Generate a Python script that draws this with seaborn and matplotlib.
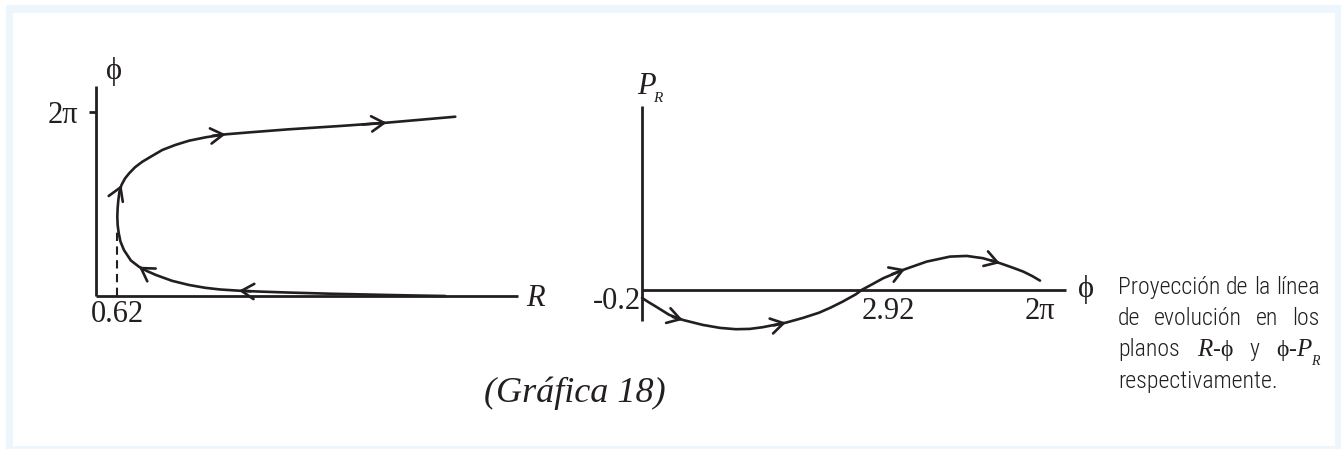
import numpy as np
import matplotlib
matplotlib.use("Agg")
import matplotlib.pyplot as plt
import matplotlib.ticker as mticker
from matplotlib import font_manager
import seaborn as sns
from matplotlib.patches import Rectangle
from matplotlib.transforms import IdentityTransform

# ---------------------------------------------------------------------------
# Data
# ---------------------------------------------------------------------------
# Evolution line projected on the R-phi plane (in the order it is travelled)
r_vals = [10.03, 9.02, 7.88, 6.73, 5.58, 4.72, 4.11, 3.57, 3.14, 2.68,
          2.19, 1.73, 1.47, 1.24, 1.01, 0.81, 0.71, 0.66, 0.63, 0.62,
          0.63, 0.65, 0.68, 0.74, 0.84, 0.96, 1.13, 1.34, 1.59, 1.91,
          2.28, 2.68, 3.17, 3.73, 4.43, 5.55, 7.01, 8.35, 9.31, 10.32]
phi_rvals = [0.0, 0.020, 0.048, 0.078, 0.116, 0.150, 0.181, 0.222, 0.280, 0.375,
             0.518, 0.716, 0.852, 0.999, 1.210, 1.568, 1.858, 2.148, 2.421, 2.704,
             3.000, 3.273, 3.546, 3.784, 4.006, 4.183, 4.391, 4.579, 4.756, 4.978,
             5.148, 5.295, 5.414, 5.513, 5.581, 5.684, 5.796, 5.909, 6.008, 6.113]
r_arrows = [6, 13, 23, 33, 37]         # points carrying a direction arrow
r_min = 0.62                           # turning radius
r_min_phi = 2.3                        # height reached by the dashed guide

# Evolution line projected on the phi-P_R plane
phi_pvals = [0.0, 0.093, 0.186, 0.363, 0.541, 0.807, 1.037, 1.249, 1.435, 1.604,
             1.914, 2.140, 2.356, 2.512, 2.667, 2.844, 2.92, 3.114, 3.327, 3.737,
             4.146, 4.586, 4.901, 5.208, 5.529, 5.755, 5.968, 6.132, 2 * np.pi]
pr_vals = [-0.2, -0.313, -0.418, -0.625, -0.75, -0.875, -0.95, -0.983, -0.975, -0.933,
           -0.818, -0.70, -0.568, -0.438, -0.293, -0.108, 0.0, 0.138, 0.293, 0.518,
           0.708, 0.833, 0.85, 0.793, 0.668, 0.563, 0.458, 0.35, 0.233]
p_arrows = [4, 10, 19, 24]
phi_zero = 2.92                        # where P_R changes sign

# Tick labels
r_xticks, r_xlabels = [r_min], ["0.62"]
r_yticks, r_ylabels = [2 * np.pi], ["2π"]
p_xticks, p_xlabels = [phi_zero, 2 * np.pi], ["2.92", "2π"]
p_yticks, p_ylabels = [-0.2], ["-0.2"]

caption_title = "(Gráfica 18)"

# ---------------------------------------------------------------------------
# Style
# ---------------------------------------------------------------------------
sns.set_style("white")
plt.rcParams["font.family"] = ["Liberation Serif", "DejaVu Serif"]
INK = "#231f20"
FRAME = "#eef6fd"
AX_LW = 2.0
CURVE_LW = 1.9

W, H, DPI = 1341, 449, 100
fig = plt.figure(figsize=(W / DPI, H / DPI), dpi=DPI)
fig.patch.set_facecolor("white")


def fx(x):
    return x / W


def fy(y):
    return 1 - y / H


# light blue frame around the panel
fig.add_artist(Rectangle((fx(6), 0), 1 - fx(6), fy(5), transform=fig.transFigure,
                         facecolor=FRAME, edgecolor="none", zorder=-2))
fig.add_artist(Rectangle((fx(13), fy(446)), fx(1335) - fx(13), fy(13) - fy(446),
                         transform=fig.transFigure, facecolor="white",
                         edgecolor="none", zorder=-1))


def style_axes(ax):
    ax.patch.set_visible(False)
    for side in ("top", "right"):
        ax.spines[side].set_visible(False)
    for side in ("left", "bottom"):
        ax.spines[side].set_color(INK)
        ax.spines[side].set_linewidth(AX_LW)
        ax.spines[side].set_capstyle("butt")
    ax.set_xlabel("")
    ax.set_ylabel("")


def add_arrows(ax, xs, ys, idxs):
    for i in idxs:
        x0, y0 = xs[i], ys[i]
        dx = xs[i + 1] - xs[i - 1]
        dy = ys[i + 1] - ys[i - 1]
        ax.annotate("", xy=(x0, y0), xytext=(x0 - 0.3 * dx, y0 - 0.3 * dy),
                    arrowprops=dict(arrowstyle="->,head_length=0.9,head_width=0.55",
                                    lw=CURVE_LW, color=INK, shrinkA=0, shrinkB=0,
                                    mutation_scale=10),
                    annotation_clip=False)


# ---------------------------------------------------------------------------
# Left panel: R - phi
# ---------------------------------------------------------------------------
axL = fig.add_axes([fx(95.7), fy(296), fx(518) - fx(95.7), fy(86) - fy(296)])
sns.lineplot(x=r_vals, y=phi_rvals, sort=False, estimator=None, ax=axL,
             color=INK, lw=CURVE_LW)
axL.plot([r_min, r_min], [0, r_min_phi], color=INK, lw=1.5,
         ls=(0, (4.0, 2.6)))
for ln in axL.lines:
    ln.set_clip_on(False)
    ln.set_solid_joinstyle("round")
add_arrows(axL, r_vals, phi_rvals, r_arrows)
axL.set_xlim(0, 12.12)
axL.set_ylim(0, 7.16)
style_axes(axL)
axL.set_xticks(r_xticks, r_xlabels)
axL.set_yticks(r_yticks, r_ylabels)
axL.tick_params(axis="x", length=0, pad=3, labelsize=22, colors=INK)
axL.tick_params(axis="y", left=True, length=5.3, width=AX_LW, direction="out",
                pad=7, labelsize=22, colors=INK)

fig.text(fx(114), fy(72), "ϕ", ha="center", va="center", size=22, color=INK)
fig.text(fx(535), fy(298), "R", ha="center", va="center", size=22,
         style="italic", color=INK)

# ---------------------------------------------------------------------------
# Right panel: phi - P_R (phi axis drawn schematically, not to scale)
# ---------------------------------------------------------------------------
SEG_A, SEG_B = 219.7, 178.3


def phi_fwd(v):
    v = np.asarray(v, dtype=float)
    return np.where(v <= phi_zero, v * SEG_A / phi_zero,
                    SEG_A + (v - phi_zero) * SEG_B / (2 * np.pi - phi_zero))


def phi_inv(u):
    u = np.asarray(u, dtype=float)
    return np.where(u <= SEG_A, u * phi_zero / SEG_A,
                    phi_zero + (u - SEG_A) * (2 * np.pi - phi_zero) / SEG_B)


axR = fig.add_axes([fx(642), fy(320.7), fx(1065.7) - fx(642), fy(106) - fy(320.7)])
sns.lineplot(x=phi_pvals, y=pr_vals, sort=False, estimator=None, ax=axR,
             color=INK, lw=CURVE_LW)
axR.set_xscale("function", functions=(phi_fwd, phi_inv))
for ln in axR.lines:
    ln.set_clip_on(False)
    ln.set_solid_joinstyle("round")
add_arrows(axR, phi_pvals, pr_vals, p_arrows)
axR.set_xlim(0, 6.768)
axR.set_ylim(-0.77, 4.6)
style_axes(axR)
axR.spines["bottom"].set_position(("data", 0))
axR.set_xticks(p_xticks, p_xlabels)
axR.set_yticks(p_yticks, p_ylabels)
axR.xaxis.set_minor_locator(mticker.NullLocator())
axR.tick_params(axis="x", which="both", length=0, pad=5, labelsize=22, colors=INK)
axR.tick_params(axis="y", length=0, pad=1, labelsize=22, colors=INK)
axR.get_xticklabels()[0].set_horizontalalignment("left")

fig.text(fx(1086), fy(290), "ϕ", ha="center", va="center", size=22, color=INK)
fig.text(fx(646), fy(86), "P", ha="center", va="center", size=22,
         style="italic", color=INK)
fig.text(fx(658), fy(98), "R", ha="center", va="center", size=11,
         style="italic", color=INK)

fig.text(fx(575), fy(393), caption_title, ha="center", va="center", size=26,
         style="italic", color=INK)

# ---------------------------------------------------------------------------
# Side note, justified between two margins
# ---------------------------------------------------------------------------
installed = {f.name for f in font_manager.fontManager.ttflist}
note_family = next((f for f in ("Liberation Sans Narrow", "Roboto Condensed", "Roboto")
                    if f in installed), "DejaVu Sans")
note_weight = "light"

note_lines = [
    [[("Proyección", "sans")], [("de", "sans")], [("la", "sans")], [("línea", "sans")]],
    [[("de", "sans")], [("evolución", "sans")], [("en", "sans")], [("los", "sans")]],
    [[("planos", "sans")], [("R", "it"), ("-", "serif"), ("ϕ", "serif")],
     [("y", "sans")], [("ϕ", "serif"), ("-", "serif"), ("P", "it"), ("R", "sub")]],
    [[("respectivamente.", "sans")]],
]
note_left, note_right = 1118, 1320
note_baselines = [294, 325, 356, 388]
MIN_GAP = 6

fig.canvas.draw()
renderer = fig.canvas.get_renderer()

# largest sans size (up to 18 pt) for which the first line fits with normal spacing
probe = [fig.text(0, 0, s, transform=IdentityTransform(), family=note_family,
                  weight=note_weight, size=10)
         for (s, _), in note_lines[0]]
w10 = sum(t.get_window_extent(renderer).width for t in probe)
for t in probe:
    t.remove()
sans_size = min(18.0, 10 * (note_right - note_left - MIN_GAP * 3) / w10)

fonts = {
    "sans": dict(family=note_family, weight=note_weight, size=sans_size, color=INK),
    "it": dict(family="Liberation Serif", style="italic", size=18, color=INK),
    "serif": dict(family="Liberation Serif", size=17, color=INK),
    "sub": dict(family="Liberation Serif", style="italic", size=10, color=INK),
}

for li, (words, base) in enumerate(zip(note_lines, note_baselines)):
    built = []
    for word in words:
        pieces = []
        for s, f in word:
            t = fig.text(0, 0, s, transform=IdentityTransform(), ha="left",
                         va="baseline", **fonts[f])
            w = t.get_window_extent(renderer).width
            pieces.append((t, w, f))
        built.append(pieces)
    widths = [sum(w for _, w, _ in p) for p in built]
    justify = li < len(note_lines) - 1 and len(built) > 1
    gap = (note_right - note_left - sum(widths)) / (len(built) - 1) if justify else MIN_GAP
    x = note_left
    y = H - base
    for pieces, ww in zip(built, widths):
        px = x
        for t, w, f in pieces:
            t.set_position((px, y - 9 if f == "sub" else y))
            px += w
        x += ww + gap

fig.savefig("out.png", dpi=DPI, facecolor="white")
